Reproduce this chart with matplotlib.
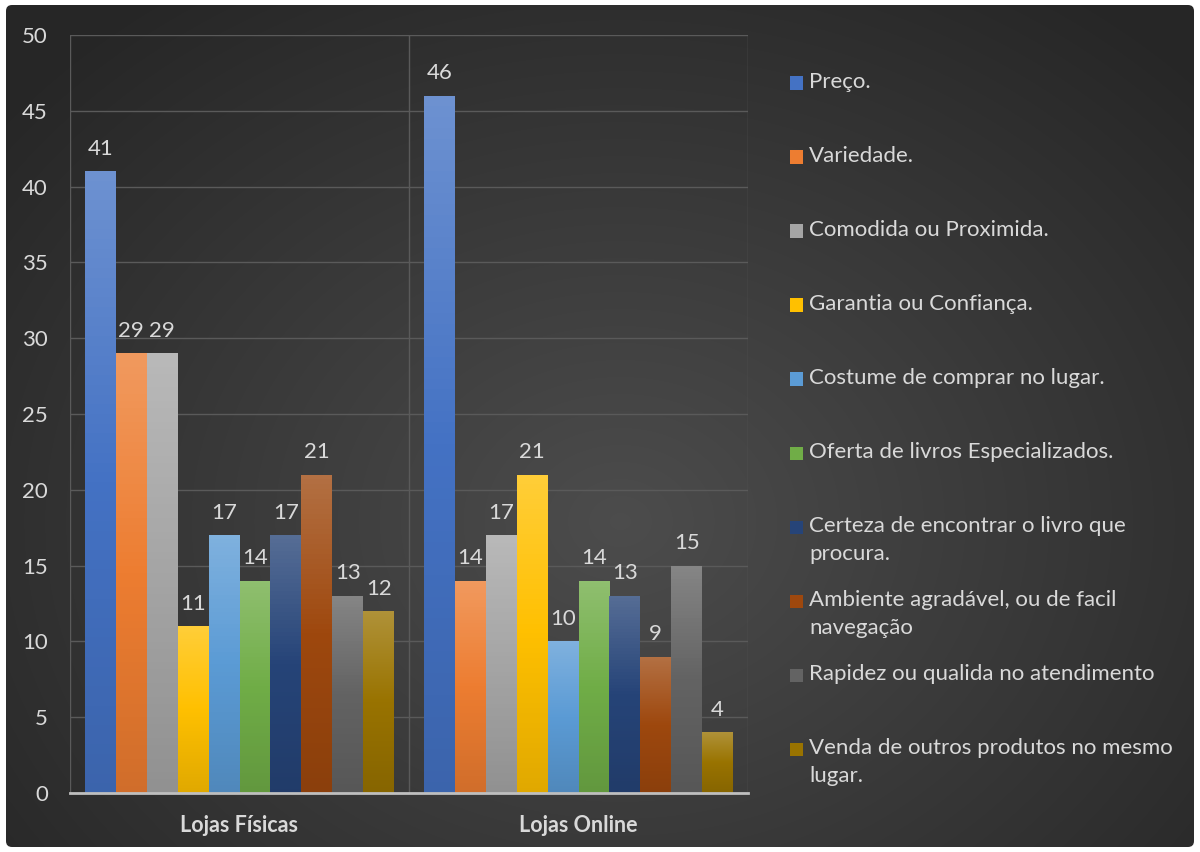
import numpy as np
import matplotlib
matplotlib.use("Agg")
from matplotlib import pyplot as plt
from matplotlib.patches import FancyBboxPatch, Rectangle
from matplotlib.colors import to_rgb

# データ
categories = ["Lojas Físicas", "Lojas Online"]
series_names = [
    "Preço.",
    "Variedade.",
    "Comodida ou Proximida.",
    "Garantia ou Confiança.",
    "Costume de comprar no lugar.",
    "Oferta de livros Especializados.",
    "Certeza de encontrar o livro que\nprocura.",
    "Ambiente agradável, ou de facil\nnavegação",
    "Rapidez ou qualida no atendimento",
    "Venda de outros produtos no mesmo\nlugar.",
]
lojas_fisicas = [41, 29, 29, 11, 17, 14, 17, 21, 13, 12]
lojas_online = [46, 14, 17, 21, 10, 14, 13, 9, 15, 4]
colors = ["#4472C4", "#ED7D31", "#A5A5A5", "#FFC000", "#5B9BD5",
          "#70AD47", "#264478", "#9E480E", "#636363", "#997300"]
yticks = [0, 5, 10, 15, 20, 25, 30, 35, 40, 45, 50]

txt_color = "#d9d9d9"
plt.rcParams['font.family'] = ['Lato', 'DejaVu Sans']

W, H = 1200, 852
fig = plt.figure(figsize=(12, 8.52), dpi=100)
fig.patch.set_facecolor("white")

# 背景（放射グラデーション）
bg = fig.add_axes([0, 0, 1, 1], zorder=-10)
bg.set_xlim(0, W)
bg.set_ylim(0, H)
bg.axis("off")
yy, xx = np.mgrid[0:H, 0:W]
r = np.sqrt(((xx - 620) / 800.0) ** 2 + ((yy - 330) / 650.0) ** 2)
r = np.clip(r, 0, 1)
gray = 0.30 - 0.15 * r
img = np.dstack([gray, gray, gray])
panel = FancyBboxPatch((6, 5), W - 12, H - 10, boxstyle="round,pad=0,rounding_size=6",
                       transform=bg.transData, facecolor="none", edgecolor="none")
bg.add_patch(panel)
im = bg.imshow(img, extent=[0, W, 0, H], origin="lower", aspect="auto")
im.set_clip_path(panel)

ax = fig.add_axes([70 / W, (H - 793) / H, (748 - 70) / W, (793 - 35) / H])
ax.set_facecolor("none")

n = len(series_names)
bw = 0.0912
x = np.arange(len(categories))
values = np.array([lojas_fisicas, lojas_online])


def grad_colors(c):
    # 上が明るく下が暗いグラデーション
    c = np.array(to_rgb(c))
    top = c + (1 - c) * 0.22
    bottom = c * 0.88
    t = np.linspace(0, 1, 64)[:, None]
    mid = c
    col = np.where(t < 0.5, top + (mid - top) * (t / 0.5), mid + (bottom - mid) * ((t - 0.5) / 0.5))
    return col[:, None, :]


for i in range(n):
    xs = x + (i - (n - 1) / 2) * bw
    vals = values[:, i]
    bars = ax.bar(xs, vals, width=bw, color=colors[i], label=series_names[i], zorder=3)
    for b, v in zip(bars, vals):
        gi = ax.imshow(grad_colors(colors[i]), extent=[b.get_x(), b.get_x() + bw, 0, v],
                       aspect="auto", zorder=3.5)
        gi.set_clip_path(b)
        ax.annotate(str(v), (b.get_x() + bw / 2, v), xytext=(0, 9), textcoords="offset points",
                    ha="center", va="bottom", color=txt_color, fontsize=16)

ax.set_xlim(-0.5, 1.5)
ax.set_ylim(0, 50)
ax.set_yticks(yticks)
ax.set_xticks(x)
ax.set_xticklabels(categories, fontweight="bold")
ax.tick_params(axis="y", length=0, labelsize=16, labelcolor=txt_color, pad=16)
ax.tick_params(axis="x", length=0, labelsize=15.5, labelcolor=txt_color, pad=16)
ax.grid(axis="y", color="#5a5a5a", linewidth=1, zorder=0)
for xv in [-0.5, 0.5, 1.5]:
    ax.axvline(xv, color="#5a5a5a", linewidth=1, zorder=0)
for s in ["top", "right", "left"]:
    ax.spines[s].set_visible(False)
ax.spines["bottom"].set_color("#bfbfbf")
ax.spines["bottom"].set_linewidth(2)
ax.spines["bottom"].set_zorder(4)

# 凡例（手動で配置）
for i, name in enumerate(series_names):
    ypix = 83 + 74 * i
    fig.patches.append(Rectangle((790 / W, 1 - (ypix + 6.5) / H), 13 / W, 13 / H,
                                 transform=fig.transFigure, facecolor=colors[i],
                                 edgecolor="none"))
    fig.text(809 / W, 1 - (ypix - 11) / H, name, color=txt_color, fontsize=16,
             va="top", ha="left", linespacing=1.5)

fig.savefig("out.png", dpi=100)
